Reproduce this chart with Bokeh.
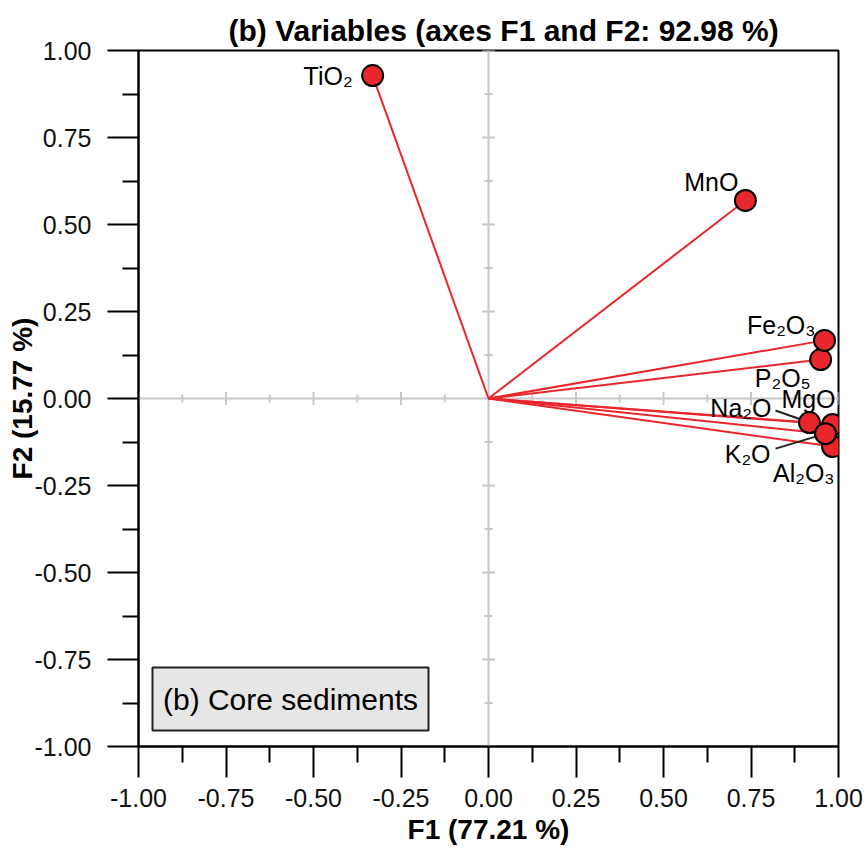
import numpy as np
from bokeh.plotting import figure
from bokeh.models import (FixedTicker, NumeralTickFormatter, BoxAnnotation, Label,
                          ColumnDataSource, Range1d)
from bokeh.core.properties import value
from bokeh.embed import file_html
from bokeh.resources import INLINE

# ---- data ----
variables = ["TiO₂", "MnO", "Fe₂O₃", "P₂O₅", "MgO", "Na₂O", "K₂O", "Al₂O₃"]
f1 = [-0.331, 0.734, 0.960, 0.949, 0.983, 0.917, 0.963, 0.983]
f2 = [0.928, 0.569, 0.167, 0.112, -0.075, -0.069, -0.101, -0.138]

major_ticks = [-1.0, -0.75, -0.5, -0.25, 0.0, 0.25, 0.5, 0.75, 1.0]
minor_ticks = [-0.875, -0.625, -0.375, -0.125, 0.125, 0.375, 0.625, 0.875]

title_text = "(b) Variables (axes F1 and F2: 92.98 %)"
x_label = "F1 (77.21 %)"
y_label = "F2 (15.77 %)"
box_text = "(b) Core sediments"

# ---- label placement (screen pixel offsets from point) ----
label_dx = {"TiO₂": -20, "MnO": -7, "Fe₂O₃": -9, "P₂O₅": -10, "MgO": 3,
            "Na₂O": -38, "K₂O": -55, "Al₂O₃": 2}
label_dy = {"TiO₂": 0, "MnO": -18, "Fe₂O₃": -15, "P₂O₅": 18, "MgO": -26,
            "Na₂O": -15, "K₂O": 20, "Al₂O₃": 26}

FONT = "Liberation Sans"
RED = "#e8262b"

p = figure(width=866, height=852, output_backend="svg", toolbar_location=None,
           x_range=Range1d(-1, 1), y_range=Range1d(-1, 1),
           min_border_left=138, min_border_right=28, min_border_top=50,
           min_border_bottom=106)
p.frame_width = 700
p.frame_height = 696

# px per data unit
SX = 700 / 2.0
SY = 696 / 2.0

p.grid.visible = False
p.outline_line_color = "black"
p.outline_line_width = 2
p.background_fill_color = "white"
p.border_fill_color = "white"

# title
p.title.text = title_text
p.title.align = "left"
p.title.offset = 90
p.title.text_font = FONT
p.title.text_font_size = "30px"
p.title.text_font_style = "bold"
p.title.text_color = "black"
p.title.standoff = 8

for ax in (p.xaxis[0], p.yaxis[0]):
    ax.ticker = FixedTicker(ticks=major_ticks, minor_ticks=minor_ticks)
    ax.formatter = NumeralTickFormatter(format="0.00")
    ax.axis_line_color = "black"
    ax.axis_line_width = 2
    ax.major_tick_line_color = "black"
    ax.major_tick_line_width = 2
    ax.minor_tick_line_color = "black"
    ax.minor_tick_line_width = 2
    ax.major_tick_in = 0
    ax.major_tick_out = 31
    ax.minor_tick_in = 0
    ax.minor_tick_out = 16
    ax.major_label_text_font = FONT
    ax.major_label_text_font_size = "25px"
    ax.major_label_text_color = "#111111"
    ax.axis_label_text_font = FONT
    ax.axis_label_text_font_size = "28px"
    ax.axis_label_text_font_style = "bold"
    ax.axis_label_text_color = "black"

p.xaxis.axis_label = x_label
p.yaxis.axis_label = y_label
p.xaxis.major_label_standoff = 11
p.yaxis.major_label_standoff = 16
p.xaxis.axis_label_standoff = 4
p.yaxis.axis_label_standoff = -6

# ---- centre crosshair with small ticks ----
GRAY = "#c8c8c8"
p.segment(x0=[-1, 0], y0=[0, -1], x1=[1, 0], y1=[0, 1], line_color=GRAY, line_width=2)
ct = [t for t in major_ticks if t != 0]
mt = minor_ticks
hx_major = 6.5 / SY
hx_minor = 4.0 / SY
p.segment(x0=ct, x1=ct, y0=[-hx_major] * len(ct), y1=[hx_major] * len(ct),
          line_color=GRAY, line_width=2)
p.segment(x0=mt, x1=mt, y0=[-hx_minor] * len(mt), y1=[hx_minor] * len(mt),
          line_color=GRAY, line_width=2)
p.segment(y0=ct, y1=ct, x0=[-6.5 / SX] * len(ct), x1=[6.5 / SX] * len(ct),
          line_color=GRAY, line_width=2)
p.segment(y0=mt, y1=mt, x0=[-4.0 / SX] * len(mt), x1=[4.0 / SX] * len(mt),
          line_color=GRAY, line_width=2)

src = ColumnDataSource(dict(
    x=f1, y=f2, name=variables,
    dx=[label_dx[v] for v in variables],
    dy=[label_dy[v] for v in variables],
))

# vectors
p.segment(x0=0, y0=0, x1="x", y1="y", source=src, line_color=RED, line_width=2)

# leader lines for crowded labels
lead = {"Na₂O": (-34, -12), "K₂O": (-50, 15)}
lx0, ly0, lx1, ly1 = [], [], [], []
for v, (ox, oy) in lead.items():
    i = variables.index(v)
    lx1.append(f1[i]); ly1.append(f2[i])
    lx0.append(f1[i] + ox / SX); ly0.append(f2[i] - oy / SY)
p.segment(x0=lx0, y0=ly0, x1=lx1, y1=ly1, line_color="#222222", line_width=2)

# points (drawing order for overlaps)
order = ["Al₂O₃", "MgO", "Na₂O", "K₂O", "P₂O₅", "Fe₂O₃", "MnO", "TiO₂"]
osrc = ColumnDataSource(dict(
    x=[f1[variables.index(v)] for v in order],
    y=[f2[variables.index(v)] for v in order],
))
p.scatter("x", "y", source=osrc, size=21, fill_color=RED, line_color="black",
          line_width=2)

p.text("x", "y", text="name", source=src, x_offset="dx", y_offset="dy",
       text_align="right", text_baseline="middle", text_font=value(FONT),
       text_font_size="25px", text_color="black")

# ---- "(b) Core sediments" box ----
bl, br = -1 + 14 / SX, -1 + 290 / SX
bb, bt = -1 + 16 / SY, -1 + 79 / SY
p.add_layout(BoxAnnotation(left=bl, right=br, bottom=bb, top=bt,
                           fill_color="#e6e6e6", fill_alpha=1.0,
                           line_color="#222222", line_width=2, line_alpha=1.0))
p.add_layout(Label(x=(bl + br) / 2, y=(bb + bt) / 2, text=box_text,
                   text_align="center", text_baseline="middle",
                   text_font=FONT, text_font_size="30px", text_color="black"))

open("out.html", "w").write(file_html(p, INLINE))
